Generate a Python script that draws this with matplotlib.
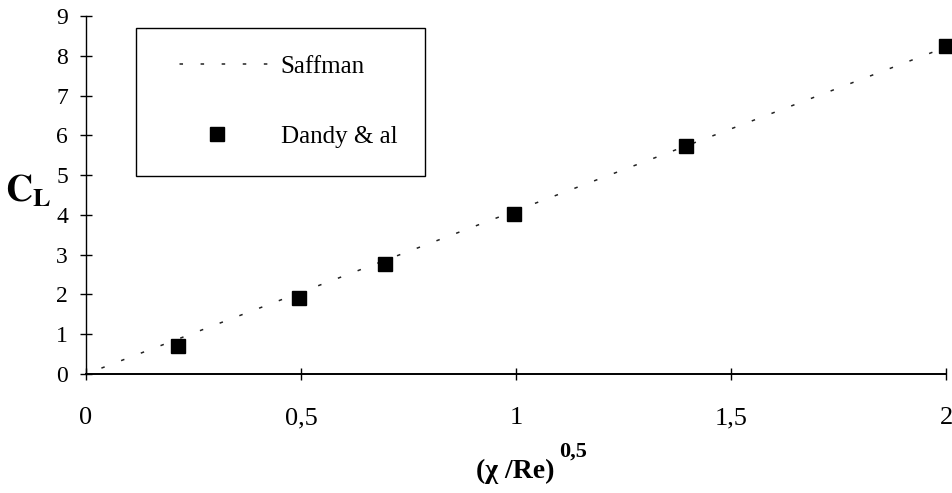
import matplotlib.pyplot as plt

# measured points (Dandy & al) and Saffman theory line
x_dandy = [0.215, 0.495, 0.695, 0.995, 1.395, 2.0]
cl_dandy = [0.70, 1.91, 2.76, 4.02, 5.72, 8.25]
x_saffman = [0.0, 2.0]
cl_saffman = [0.0, 8.22]

x_ticks = [0, 0.5, 1, 1.5, 2]
x_labels = ["0", "0,5", "1", "1,5", "2"]
y_ticks = list(range(10))

plt.rcParams["font.family"] = ["Liberation Serif", "DejaVu Serif"]
plt.rcParams["mathtext.fontset"] = "stix"

fig = plt.figure(figsize=(9.53, 4.93), dpi=100)
ax = fig.add_axes([0.0902, 0.2414, 0.9027, 0.7261])

ax.plot(x_saffman, cl_saffman, color="#222222", lw=1.1,
        linestyle=(3, (2.3, 11.5)), label="Saffman")
ax.plot(x_dandy, cl_dandy, linestyle="none", marker="s", ms=10.5,
        color="black", label="Dandy & al", clip_on=False, zorder=5)

ax.set_xlim(0, 2)
ax.set_ylim(0, 9)
ax.set_xticks(x_ticks)
ax.set_xticklabels(x_labels)
ax.set_yticks(y_ticks)
for s in ["top", "right"]:
    ax.spines[s].set_visible(False)
ax.spines["left"].set_linewidth(1.0)
ax.spines["bottom"].set_linewidth(1.4)
ax.tick_params(axis="both", direction="inout", length=8, width=1)
ax.tick_params(axis="x", pad=20, labelsize=19)
ax.tick_params(axis="y", pad=9, labelsize=17)

leg = ax.legend(loc="upper left", bbox_to_anchor=(0.058, 0.966),
                borderaxespad=0, fontsize=18, handlelength=4.3,
                handletextpad=0.4, labelspacing=1.9, borderpad=1.1,
                fancybox=False, edgecolor="black", framealpha=1)
leg.get_frame().set_linewidth(1.0)

fig.text(0.030, 0.610, r"$\mathbf{C}_\mathbf{L}$", fontsize=27,
         ha="center", va="center")
fig.text(0.541, 0.043, "(χ /Re)", fontsize=20, fontweight="bold",
         ha="center", va="center")
fig.text(0.601, 0.085, "0,5", fontsize=16, fontweight="bold",
         ha="center", va="center")

fig.savefig("out.png", dpi=100)
